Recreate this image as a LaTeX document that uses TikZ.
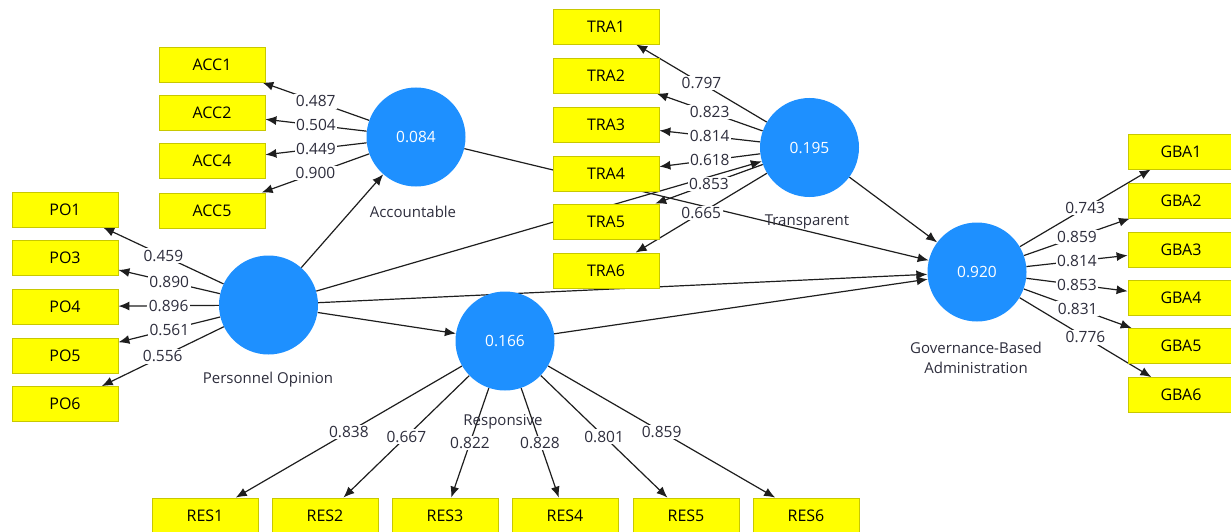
\documentclass[tikz,border=0pt]{standalone}
\usepackage{fontspec}
\setmainfont{Open Sans}
\usetikzlibrary{arrows.meta}
\pgfdeclarelayer{bg}
\pgfsetlayers{bg,main}
\definecolor{lvblue}{RGB}{30,144,255}
\definecolor{indfill}{RGB}{255,255,0}
\definecolor{indline}{RGB}{200,200,0}
\definecolor{txt}{RGB}{45,45,60}
\definecolor{ln}{RGB}{30,30,30}
\tikzset{
  ind/.style={draw=indline, line width=0.8pt, fill=indfill, minimum width=106pt, minimum height=35pt, inner sep=0pt, text=black, font=\fontsize{16}{19}\selectfont},
  lv/.style={circle, fill=lvblue, minimum size=99pt, inner sep=0pt, text=white, font=\fontsize{15.5}{18}\selectfont},
  ld/.style={fill=white, inner sep=1.5pt, text=txt, font=\fontsize{15.5}{18}\selectfont},
  lvname/.style={text=txt, align=center, font=\fontsize{15}{20}\selectfont},
  arr/.style={draw=ln, line width=1.2pt, -{Latex[length=11pt,width=9pt]}},
}
\begin{document}
\begin{tikzpicture}[x=1pt,y=-1pt]
\useasboundingbox (0,0) rectangle (1231,532);
% latent variables
\node[lv] (acc) at (416,137) {0.084};
\node[lv] (tra) at (809.5,147.5) {0.195};
\node[lv] (po) at (268.5,305) {};
\node[lv] (res) at (505,341) {0.166};
\node[lv] (gba) at (977,272) {0.920};
\node[lvname] (accL) at (413,212) {Accountable};
\node[lvname] (traL) at (807,222) {Transparent};
\node[lvname] (poL) at (268,380) {Personnel Opinion};
\node[lvname] (resL) at (503,422) {Responsive};
\node[lvname] (gbaL) at (976,358) {Governance-Based\\Administration};
% indicators
\node[ind] (acc1) at (212,64.5) {ACC1};
\node[ind] (acc2) at (212,113) {ACC2};
\node[ind] (acc4) at (212,161) {ACC4};
\node[ind] (acc5) at (212,210.5) {ACC5};
\node[ind] (tra1) at (606,26.5) {TRA1};
\node[ind] (tra2) at (606,75.5) {TRA2};
\node[ind] (tra3) at (606,124.5) {TRA3};
\node[ind] (tra4) at (606,173.5) {TRA4};
\node[ind] (tra5) at (606,221.5) {TRA5};
\node[ind] (tra6) at (606,270.5) {TRA6};
\node[ind] (po1) at (65,209.5) {PO1};
\node[ind] (po3) at (65,257.5) {PO3};
\node[ind] (po4) at (65,306.5) {PO4};
\node[ind] (po5) at (65,355.5) {PO5};
\node[ind] (po6) at (65,404) {PO6};
\node[ind] (gba1) at (1181,151.5) {GBA1};
\node[ind] (gba2) at (1181,200.5) {GBA2};
\node[ind] (gba3) at (1181,249.5) {GBA3};
\node[ind] (gba4) at (1181,298) {GBA4};
\node[ind] (gba5) at (1181,346) {GBA5};
\node[ind] (gba6) at (1181,395) {GBA6};
\node[ind] (res1) at (205,515.5) {RES1};
\node[ind] (res2) at (325,515.5) {RES2};
\node[ind] (res3) at (445,515.5) {RES3};
\node[ind] (res4) at (565,515.5) {RES4};
\node[ind] (res5) at (686,515.5) {RES5};
\node[ind] (res6) at (806,515.5) {RES6};
\begin{pgfonlayer}{bg}
% inner model
\draw[arr] (po) -- (acc);
\draw[arr] (po) -- (tra);
\draw[arr] (po) -- (res);
\draw[arr] (po) -- (gba);
\draw[arr] (acc) -- (gba);
\draw[arr] (tra) -- (gba);
\draw[arr] (res) -- (gba);
% outer model
\draw[arr] (acc) -- node[ld]{0.487} (acc1);
\draw[arr] (acc) -- node[ld]{0.504} (acc2);
\draw[arr] (acc) -- node[ld]{0.449} (acc4);
\draw[arr] (acc) -- node[ld]{0.900} (acc5);
\draw[arr] (tra) -- node[ld]{0.797} (tra1);
\draw[arr] (tra) -- node[ld]{0.823} (tra2);
\draw[arr] (tra) -- node[ld]{0.814} (tra3);
\draw[arr] (tra) -- node[ld]{0.618} (tra4);
\draw[arr] (tra) -- node[ld]{0.853} (tra5);
\draw[arr] (tra) -- node[ld]{0.665} (tra6);
\draw[arr] (po) -- node[ld]{0.459} (po1);
\draw[arr] (po) -- node[ld]{0.890} (po3);
\draw[arr] (po) -- node[ld]{0.896} (po4);
\draw[arr] (po) -- node[ld]{0.561} (po5);
\draw[arr] (po) -- node[ld]{0.556} (po6);
\draw[arr] (gba) -- node[ld]{0.743} (gba1);
\draw[arr] (gba) -- node[ld]{0.859} (gba2);
\draw[arr] (gba) -- node[ld]{0.814} (gba3);
\draw[arr] (gba) -- node[ld]{0.853} (gba4);
\draw[arr] (gba) -- node[ld]{0.831} (gba5);
\draw[arr] (gba) -- node[ld]{0.776} (gba6);
\draw[arr] (res) -- node[ld]{0.838} (res1);
\draw[arr] (res) -- node[ld]{0.667} (res2);
\draw[arr] (res) -- node[ld]{0.822} (res3);
\draw[arr] (res) -- node[ld]{0.828} (res4);
\draw[arr] (res) -- node[ld]{0.801} (res5);
\draw[arr] (res) -- node[ld]{0.859} (res6);
\end{pgfonlayer}
\end{tikzpicture}
\end{document}
